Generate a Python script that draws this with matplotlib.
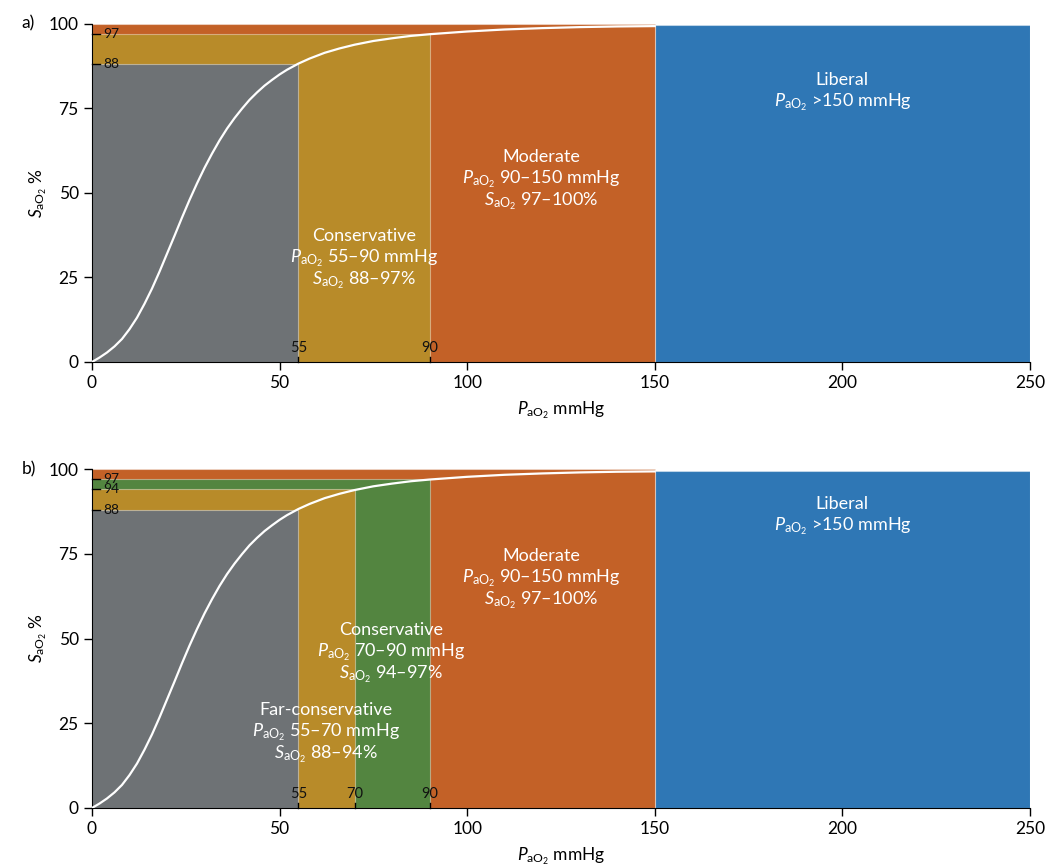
import matplotlib
matplotlib.use("Agg")
import matplotlib.pyplot as plt
from matplotlib.patches import Rectangle

plt.rcParams['font.family'] = ['Lato', 'DejaVu Sans']
plt.rcParams['mathtext.fontset'] = 'custom'
plt.rcParams['mathtext.rm'] = 'Lato'
plt.rcParams['mathtext.it'] = 'Lato:italic'
plt.rcParams['mathtext.bf'] = 'Lato:bold'

# ---- data ----
curve_p = [0, 2, 4, 6, 8, 10, 12, 14, 16, 18, 20, 22, 24, 26, 28, 30, 32, 34,
           36, 38, 40, 42, 44, 46, 48, 50, 52, 55, 58, 62, 66, 70, 75, 80, 85,
           90, 100, 110, 120, 130, 140, 150]
curve_s = [0, 1.3, 2.8, 4.6, 6.8, 9.7, 13.1, 17.2, 21.7, 26.7, 32.0, 37.3,
           42.7, 47.9, 52.8, 57.4, 61.6, 65.5, 69.0, 72.1, 74.9, 77.5, 79.7,
           81.7, 83.4, 85.0, 86.4, 88.2, 89.7, 91.4, 92.7, 93.8, 94.9, 95.7,
           96.4, 96.9, 97.7, 98.3, 98.7, 99.0, 99.2, 99.3]

# zones: (P upper bound, S upper bound, colour)  drawn from widest to narrowest
zones_a = [(150, 100, '#c36127'), (90, 97, '#b88b29'), (55, 88, '#6e7275')]
zones_b = [(150, 100, '#c36127'), (90, 97, '#538540'), (70, 94, '#b88b29'),
           (55, 88, '#6e7275')]
liberal_range = (150, 250, 99.5)

inner_y_a = [97, 88]
inner_x_a = [55, 90]
inner_y_b = [97, 94, 88]
inner_x_b = [55, 70, 90]

P = r'$\mathit{P}_{\mathrm{aO}_2}$'
S = r'$\mathit{S}_{\mathrm{aO}_2}$'

labels_a = [
    (72.5, 30.8, ['Conservative', P + ' 55–90 mmHg', S + ' 88–97%']),
    (119.7, 54.0, ['Moderate', P + ' 90–150 mmHg', S + ' 97–100%']),
    (200.0, 80.0, ['Liberal', P + ' >150 mmHg']),
]
labels_b = [
    (62.4, 22.4, ['Far-conservative', P + ' 55–70 mmHg', S + ' 88–94%']),
    (79.7, 46.0, ['Conservative', P + ' 70–90 mmHg', S + ' 94–97%']),
    (119.7, 67.8, ['Moderate', P + ' 90–150 mmHg', S + ' 97–100%']),
    (200.0, 86.4, ['Liberal', P + ' >150 mmHg']),
]

fig = plt.figure(figsize=(10.45, 8.66), dpi=100)
ax_a = fig.add_axes([0.088, 0.582, 0.8976, 0.3906])
ax_b = fig.add_axes([0.088, 0.067, 0.8976, 0.3914])

edge = (1, 1, 1, 0.4)


def draw(ax, zones, inner_y, inner_x, labels, tag):
    ax.add_patch(Rectangle((liberal_range[0], 0), liberal_range[1] - liberal_range[0],
                           liberal_range[2], facecolor='#2f77b5', edgecolor=edge,
                           lw=0.8, zorder=1))
    for pmax, smax, col in zones:
        ax.add_patch(Rectangle((0, 0), pmax, smax, facecolor=col, edgecolor=edge,
                               lw=0.8, zorder=1))
    ax.plot(curve_p, curve_s, color='white', lw=1.6, zorder=3,
            solid_joinstyle='round')
    ax.set_xlim(0, 250)
    ax.set_ylim(0, 100)
    ax.set_xticks([0, 50, 100, 150, 200, 250])
    ax.set_yticks([0, 25, 50, 75, 100])
    ax.tick_params(labelsize=12.5, length=6, width=1, direction='out')
    for sp in ['top', 'right']:
        ax.spines[sp].set_visible(False)
    ax.set_xlabel(P + ' mmHg', fontsize=12.5, labelpad=6)
    ax.set_ylabel(S + ' %', fontsize=12.5, labelpad=0)
    yt = ax.get_yaxis_transform()
    for v in inner_y:
        ax.plot([0, 0.009], [v, v], color='black', lw=1, transform=yt,
                clip_on=False, zorder=4)
        ax.text(0.012, v, str(v), transform=yt, fontsize=10, va='center',
                ha='left', color='#111111', zorder=4)
    xt = ax.get_xaxis_transform()
    for v in inner_x:
        ax.plot([v, v], [0, 0.015], color='black', lw=1, transform=xt,
                clip_on=False, zorder=4)
        ax.text(v, 0.022, str(v), transform=xt, fontsize=10.5, va='bottom',
                ha='center', color='#111111', zorder=4)
    for x, y, lines in labels:
        n = len(lines)
        step = 16.0
        for i, line in enumerate(lines):
            off = ((n - 1) / 2 - i) * step
            ax.annotate(line, xy=(x, y), xytext=(0, off), textcoords='offset points',
                        ha='center', va='center', fontsize=13, color='white',
                        zorder=5)
    ax.text(-0.075, 1.0, tag, transform=ax.transAxes, fontsize=12.5,
            ha='left', va='center')


draw(ax_a, zones_a, inner_y_a, inner_x_a, labels_a, 'a)')
draw(ax_b, zones_b, inner_y_b, inner_x_b, labels_b, 'b)')

fig.savefig('out.png', dpi=100)
